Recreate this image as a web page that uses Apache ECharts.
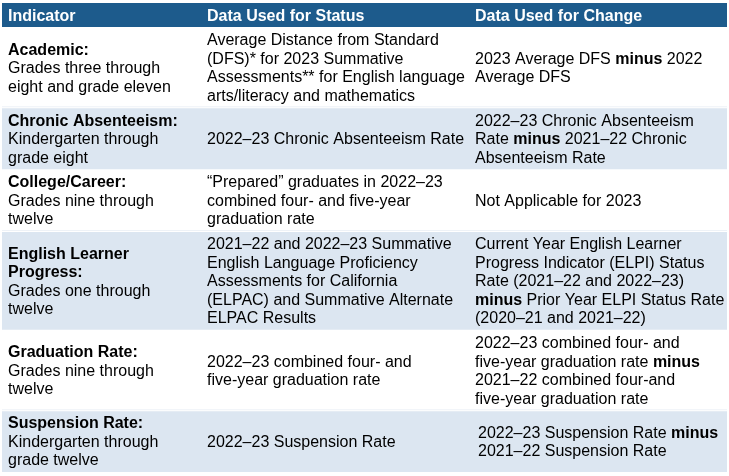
<!DOCTYPE html>
<html>
<head>
<meta charset="utf-8">
<script src="https://cdn.jsdelivr.net/npm/echarts@6/dist/echarts.min.js"></script>
<style>html,body{margin:0;padding:0;background:#fff}#c{width:729px;height:476px}</style>
</head>
<body>
<div id="c"></div>
<script>
// ---- table content ----
var headers = ['Indicator', 'Data Used for Status', 'Data Used for Change'];
var indicators = [
  '{b|Academic:}\nGrades three through\neight and grade eleven',
  '{b|Chronic Absenteeism:}\nKindergarten through\ngrade eight',
  '{b|College/Career:}\nGrades nine through\ntwelve',
  '{b|English Learner}\n{b|Progress:}\nGrades one through\ntwelve',
  '{b|Graduation Rate:}\nGrades nine through\ntwelve',
  '{b|Suspension Rate:}\nKindergarten through\ngrade twelve'
];
var statusData = [
  'Average Distance from Standard\n(DFS)* for 2023 Summative\nAssessments** for English language\narts/literacy and mathematics',
  '2022–23 Chronic Absenteeism Rate',
  '“Prepared” graduates in 2022–23\ncombined four- and five-year\ngraduation rate',
  '2021–22 and 2022–23 Summative\nEnglish Language Proficiency\nAssessments for California\n(ELPAC) and Summative Alternate\nELPAC Results',
  '2022–23 combined four- and\nfive-year graduation rate',
  '2022–23 Suspension Rate'
];
var changeData = [
  '2023 Average DFS {b|minus} 2022\nAverage DFS',
  '2022–23 Chronic Absenteeism\nRate {b|minus} 2021–22 Chronic\nAbsenteeism Rate',
  'Not Applicable for 2023',
  'Current Year English Learner\nProgress Indicator (ELPI) Status\nRate (2021–22 and 2022–23)\n{b|minus} Prior Year ELPI Status Rate\n(2020–21 and 2021–22)',
  '2022–23 combined four- and\nfive-year graduation rate {b|minus}\n2021–22 combined four-and\nfive-year graduation rate',
  '2022–23 Suspension Rate {b|minus}\n2021–22 Suspension Rate'
];

// ---- layout (not data) ----
var LINE = 18.5, PAD = 6.3, HEADER_H = 24, FS = 16, TEXT_DY = 1.5;
var colEdges = [0, 198, 466, 725];
var textOffsets = [6, 7, 7];
var FONT = '"Liberation Sans", Arial, sans-serif';
var HEADER_BG = '#1d5b8c', ALT_BG = '#dce6f1';

function nLines(s){ return s.split('\n').length; }
var rowTop = [], rowH = [];
var acc = HEADER_H;
for (var i = 0; i < indicators.length; i++) {
  var n = Math.max(nLines(indicators[i]), nLines(statusData[i]), nLines(changeData[i]));
  rowTop.push(acc); rowH.push(n * LINE + PAD); acc += n * LINE + PAD;
}
var TOTAL = acc;

var rich = { b: { fontFamily: FONT, fontSize: FS, fontWeight: 'bold', fill: '#000', lineHeight: LINE } };

function cellText(col, yMid, txt, api, extra) {
  var p = api.coord([colEdges[col] + textOffsets[col] + (extra || 0), yMid]);
  return { type: 'text', style: { text: txt, x: p[0], y: p[1] + TEXT_DY, fill: '#000', fontFamily: FONT, fontSize: FS,
    lineHeight: LINE, verticalAlign: 'middle', align: 'left', rich: rich } };
}

var chart = echarts.init(document.getElementById('c'), null, { renderer: 'canvas' });
chart.setOption({
  animation: false,
  grid: { left: 2, right: 2, top: 3, bottom: 4 },
  xAxis: { type: 'value', min: 0, max: 725, show: false },
  yAxis: { type: 'value', min: 0, max: TOTAL, inverse: true, show: false },
  series: [
    {
      type: 'custom', data: [[0]],
      renderItem: function (params, api) {
        var a = api.coord([0, 0]), b = api.coord([725, HEADER_H]);
        var children = [{ type: 'rect', shape: { x: a[0], y: a[1], width: b[0] - a[0], height: b[1] - a[1] }, style: { fill: HEADER_BG } }];
        for (var c = 0; c < 3; c++) {
          var p = api.coord([colEdges[c] + textOffsets[c], HEADER_H / 2]);
          children.push({ type: 'text', style: { text: headers[c], x: p[0], y: p[1] + 1.5, fill: '#fff', fontFamily: FONT,
            fontSize: FS, fontWeight: 'bold', verticalAlign: 'middle', align: 'left' } });
        }
        return { type: 'group', children: children };
      }
    },
    {
      type: 'custom', data: indicators.map(function (d, i) { return [i]; }),
      renderItem: function (params, api) {
        var i = api.value(0);
        var a = api.coord([0, rowTop[i]]), b = api.coord([725, rowTop[i] + rowH[i]]);
        var children = [];
        if (i % 2 === 1) {
          children.push({ type: 'rect', shape: { x: a[0], y: a[1] + 1, width: b[0] - a[0], height: b[1] - a[1] - 1 }, style: { fill: ALT_BG } });
        } else {
          children.push({ type: 'rect', shape: { x: a[0], y: b[1] - 1, width: b[0] - a[0], height: 1 }, style: { fill: '#eef2f7' } });
        }
        var mid = rowTop[i] + rowH[i] / 2;
        children.push(cellText(0, mid, indicators[i], api));
        children.push(cellText(1, mid, statusData[i], api));
        children.push(cellText(2, mid, changeData[i], api, i === indicators.length - 1 ? 3 : 0));
        return { type: 'group', children: children };
      }
    }
  ]
});
</script>
</body>
</html>
